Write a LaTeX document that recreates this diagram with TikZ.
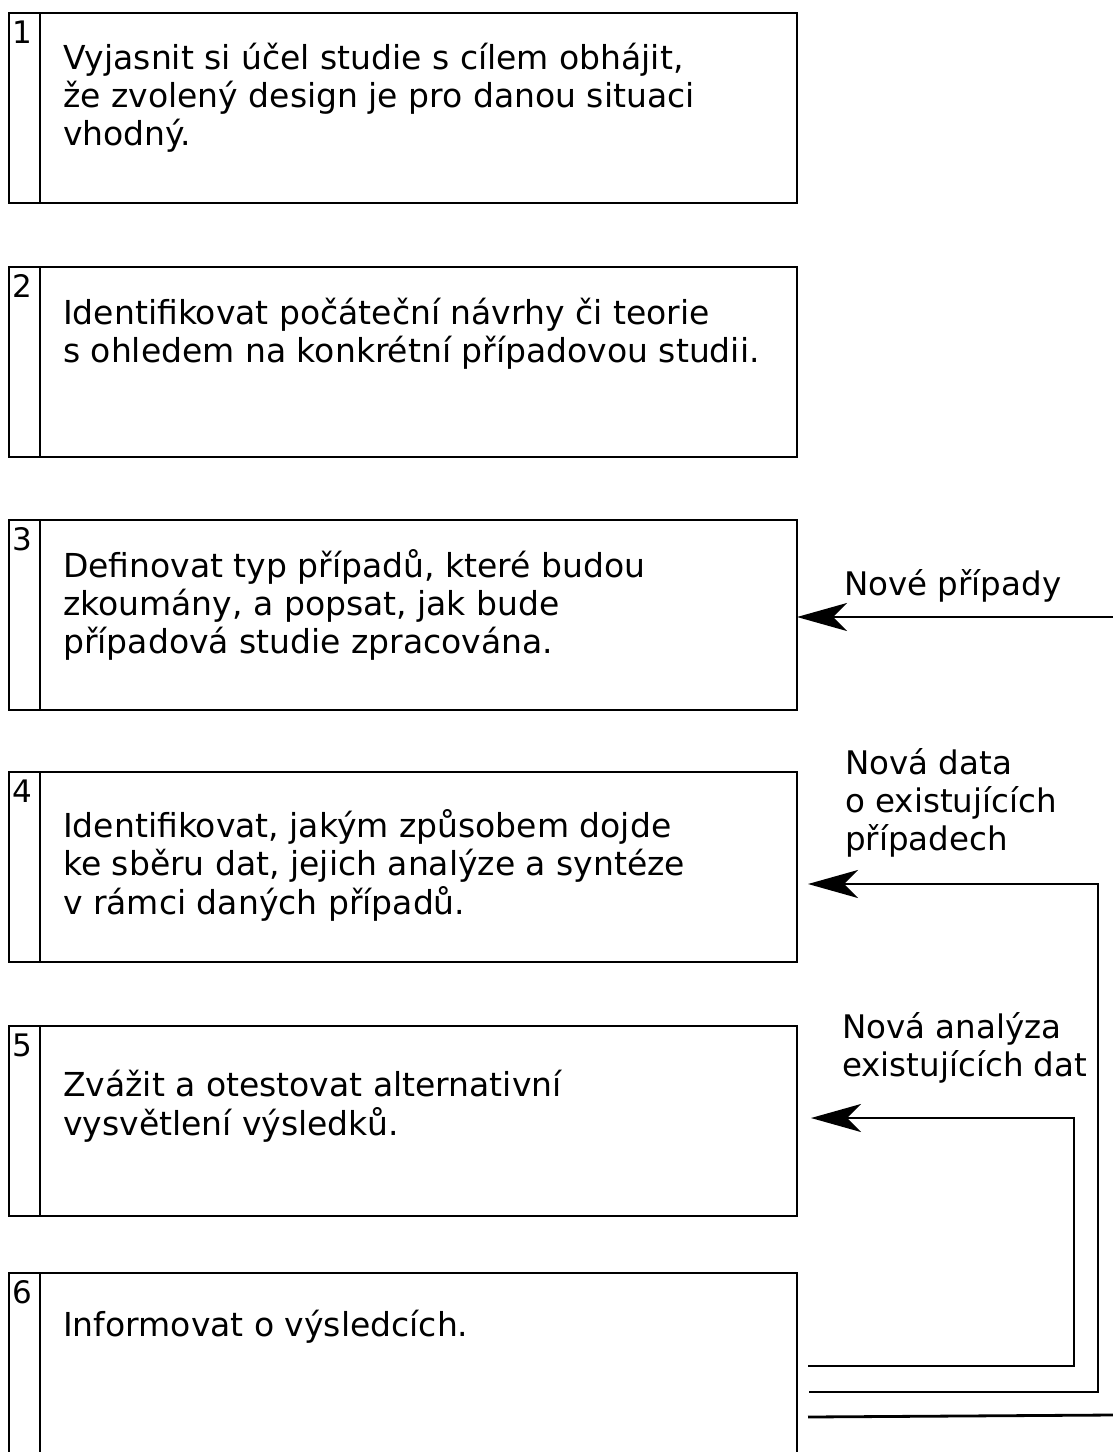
\documentclass[tikz,border=0pt]{standalone}
\usepackage{fontspec}
\setmainfont{DejaVu Sans}
\usetikzlibrary{arrows.meta,calc}

% one step: rectangle with a narrow number column on the left
\newcommand{\stepblock}[5]{%
  % #1 name, #2 top (px), #3 number, #4 first baseline (px), #5 text
  \node[stepbox, anchor=north west] (#1) at (9,-#2) {};
  \draw[divider] ($(#1.north west)+(31,0)$) -- ($(#1.south west)+(31,0)$);
  \node[numlabel, anchor=base west] (#1n) at (12,-#2-30) {#3};
  \node[steptext, anchor=base west] (#1t) at (63,-#4)
    {\begin{tabular}[t]{@{}l@{}}#5\end{tabular}};
}

\begin{document}
\begin{tikzpicture}[x=1pt,y=1pt,
  stepbox/.style={draw=black, line width=2pt, minimum width=788pt,
    minimum height=190pt, inner sep=0pt, outer sep=0pt},
  divider/.style={line width=2pt},
  numlabel/.style={inner sep=0pt, font=\fontsize{31}{36}\selectfont},
  steptext/.style={inner sep=0pt, font=\fontsize{33}{38}\selectfont},
  flowlabel/.style={inner sep=0pt, font=\fontsize{32.5}{38}\selectfont},
  flow/.style={line width=2.8pt,
    -{Stealth[length=50pt, width=28pt, inset=14pt]}},
  plain/.style={line width=2.8pt}]

\useasboundingbox[fill=white] (0,0) rectangle (1113,-1452);

\stepblock{b1}{13}{1}{69}{Vyjasnit si účel studie s cílem obhájit,\\že zvolený design je pro danou situaci\\vhodný.}
\stepblock{b2}{267}{2}{324}{Identifikovat počáteční návrhy či teorie\\s ohledem na konkrétní případovou studii.}
\stepblock{b3}{520}{3}{577}{Definovat typ případů, které budou\\zkoumány, a popsat, jak bude\\případová studie zpracována.}
\stepblock{b4}{772}{4}{837}{Identifikovat, jakým způsobem dojde\\ke sběru dat, jejich analýze a syntéze\\v rámci daných případů.}
\stepblock{b5}{1026}{5}{1096}{Zvážit a otestovat alternativní\\vysvětlení výsledků.}
\stepblock{b6}{1273}{6}{1336}{Informovat o výsledcích.}

% feedback from the last step back to earlier steps
\coordinate (r3) at (1113,-617);
\draw[flow] (r3) -- (r3 -| b3.east);
\node[flowlabel, anchor=base west] (l3) at (844,-595) {Nové případy};

\coordinate (s4) at (809,-1392);
\coordinate (k4) at (1098,-1392);
\coordinate (h4) at (808,-884);
\draw[flow] (s4) -- (k4) -- (k4 |- h4) -- (h4);
\node[flowlabel, anchor=base west] (l4) at (845,-774)
  {\begin{tabular}[t]{@{}l@{}}Nová data\\o existujících\\případech\end{tabular}};

\coordinate (s5) at (808,-1366);
\coordinate (k5) at (1074,-1366);
\coordinate (h5) at (811,-1118);
\draw[flow] (s5) -- (k5) -- (k5 |- h5) -- (h5);
\node[flowlabel, anchor=base west] (l5) at (842,-1038)
  {\begin{tabular}[t]{@{}l@{}}Nová analýza\\existujících dat\end{tabular}};

\coordinate (s6) at (808,-1417);
\coordinate (e6) at (1113,-1415);
\draw[plain] (s6) -- (e6);

\end{tikzpicture}
\end{document}
